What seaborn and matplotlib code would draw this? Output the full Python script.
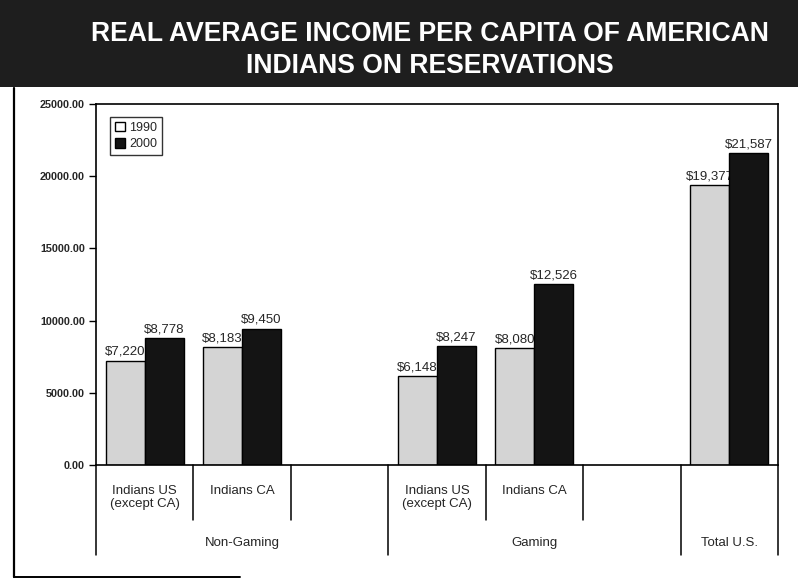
import matplotlib
matplotlib.use("Agg")
import matplotlib.pyplot as plt
import matplotlib.transforms as mtransforms
from matplotlib.lines import Line2D
from matplotlib.patches import Rectangle, Patch
import pandas as pd
import seaborn as sns

# Category slots along the x axis (two blank slots separate the groups)
slots = ["ng_us", "ng_ca", "ng_blank", "g_us", "g_ca", "g_blank", "total"]
categories = ["ng_us", "ng_ca", "g_us", "g_ca", "total"]
category_labels = ["Indians US\n(except CA)", "Indians CA",
                   "Indians US\n(except CA)", "Indians CA", ""]
income_1990 = [7220, 8183, 6148, 8080, 19377]
income_2000 = [8778, 9450, 8247, 12526, 21587]
years = ["1990", "2000"]
groups = ["Non-Gaming", "Gaming", "Total U.S."]
group_spans = [(-0.5, 2.5), (2.5, 5.5), (5.5, 6.5)]
y_ticks = [0, 5000, 10000, 15000, 20000, 25000]
title = "REAL AVERAGE INCOME PER CAPITA OF AMERICAN\nINDIANS ON RESERVATIONS"

df = pd.DataFrame({
    "slot": categories * 2,
    "year": [years[0]] * len(categories) + [years[1]] * len(categories),
    "income": income_1990 + income_2000,
})

sns.set_theme(style="white")
plt.rcParams["font.family"] = ["Liberation Sans", "DejaVu Sans"]

light = "#d4d4d4"
dark = "#141414"

fig = plt.figure(figsize=(7.98, 5.81), dpi=100)
fig.patch.set_facecolor("white")

# Title banner
fig.add_artist(Rectangle((0, 1 - 87 / 581), 1, 87 / 581, transform=fig.transFigure,
                         facecolor="#1e1e1e", edgecolor="none", zorder=0))
fig.text(0.539, 1 - 50 / 581, title, ha="center", va="center", color="white",
         fontsize=19.1, fontweight="bold", linespacing=1.32,
         family=["Liberation Sans Narrow", "Liberation Sans", "DejaVu Sans"])

# Page frame
fig.add_artist(Line2D([14 / 798, 14 / 798], [1 - 88 / 581, 1 - 577 / 581],
                      transform=fig.transFigure, color="black", lw=1.6))
fig.add_artist(Line2D([14 / 798, 240 / 798], [1 - 577 / 581, 1 - 577 / 581],
                      transform=fig.transFigure, color="black", lw=1.4))

ax = fig.add_axes([96 / 798, 1 - 465 / 581, 682 / 798, 361 / 581])

sns.barplot(data=df, x="slot", y="income", hue="year", order=slots,
            hue_order=years, palette=[light, dark], edgecolor="black",
            linewidth=1.0, width=0.8, legend=False, ax=ax)

ax.set_ylim(0, 25000)
ax.set_xlim(-0.5, 6.5)
ax.set_yticks(y_ticks)
ax.set_yticklabels([f"{v:.2f}" for v in y_ticks], fontsize=7.8, fontweight="bold")
ax.tick_params(axis="y", left=True, length=5, width=1, color="black", pad=3)
ax.tick_params(axis="x", bottom=False, labelbottom=False)
ax.set_xlabel("")
ax.set_ylabel("")
for side in ["left", "top", "right", "bottom"]:
    ax.spines[side].set_visible(True)
    ax.spines[side].set_color("black")
    ax.spines[side].set_linewidth(1.2)

# 2000 bars sit above the 1990 labels, which they partly cover
bars_1990, bars_2000 = ax.containers[0], ax.containers[1]
for bar in bars_2000:
    bar.set_zorder(2.5)
ax.bar_label(bars_1990, labels=[f"\\${v:,}" for v in income_1990], padding=2,
             fontsize=9.5, zorder=2)
ax.bar_label(bars_2000, labels=[f"\\${v:,}" for v in income_2000], padding=2,
             fontsize=9.5, zorder=3)

# Category and group labels under the axis
trans = mtransforms.blended_transform_factory(ax.transData, ax.transAxes)
px = 1 / 361  # one pixel in axes-height units
for cat, lab in zip(categories, category_labels):
    if lab:
        ax.text(slots.index(cat), -20 * px, lab, transform=trans, ha="center",
                va="top", fontsize=9.5, linespacing=1.15, clip_on=False)

short_edges = [0.5, 1.5, 3.5, 4.5]
long_edges = [-0.5, 2.5, 5.5, 6.5]
for x in short_edges:
    ax.add_line(Line2D([x, x], [0, -55 * px], transform=trans, color="black",
                       lw=1.1, clip_on=False))
for x in long_edges:
    ax.add_line(Line2D([x, x], [0, -90 * px], transform=trans, color="black",
                       lw=1.1, clip_on=False))
for name, (a, b) in zip(groups, group_spans):
    ax.text((a + b) / 2, -78 * px, name, transform=trans, ha="center",
            va="center", fontsize=9.5, clip_on=False)

# Legend
handles = [Patch(facecolor="white", edgecolor="black", linewidth=1.0),
           Patch(facecolor=dark, edgecolor="black", linewidth=1.0)]
leg = ax.legend(handles, years, loc="upper left", bbox_to_anchor=(0.02, 0.965),
                borderaxespad=0, frameon=True, fancybox=False, fontsize=9,
                handlelength=0.8, handleheight=0.8, handletextpad=0.35,
                labelspacing=0.35, borderpad=0.4)
leg.get_frame().set_edgecolor("black")
leg.get_frame().set_linewidth(1.0)

fig.savefig("out.png", dpi=100)
